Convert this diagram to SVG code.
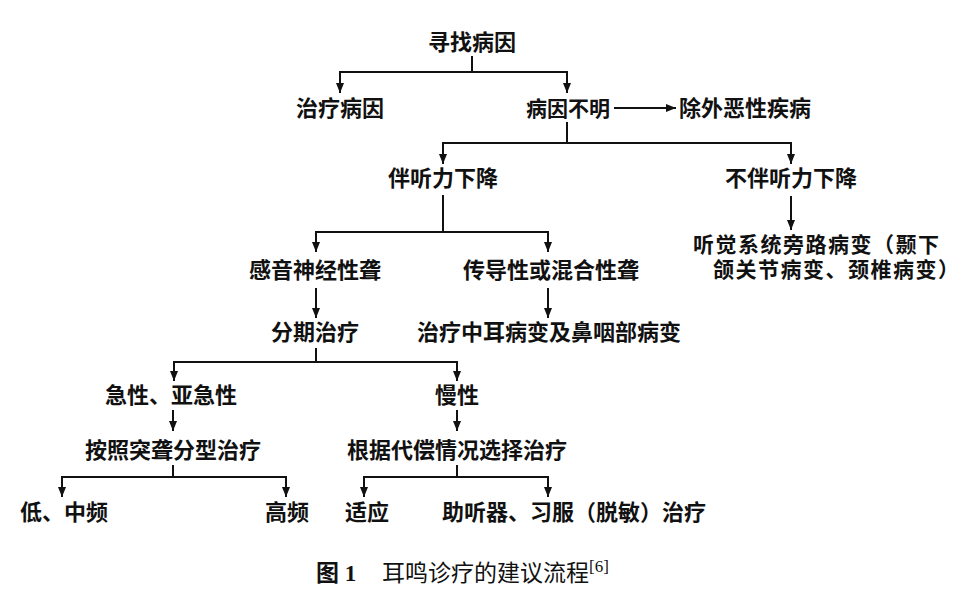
<svg xmlns="http://www.w3.org/2000/svg" width="967" height="610" viewBox="0 0 967 610">
<defs>
<marker id="ah" markerUnits="userSpaceOnUse" markerWidth="10" markerHeight="10" refX="10" refY="4" orient="auto">
<path d="M0,0 L10,4 L0,8 z" fill="#111"/>
</marker>
<style>
text{font-family:"Noto Sans CJK SC","Liberation Sans",sans-serif;font-size:22px;font-weight:bold;fill:#111}
.m{text-anchor:middle}
.c{stroke:#111;stroke-width:2;fill:none}
.a{marker-end:url(#ah)}
.cap{font-weight:normal;font-size:23px}
.two{font-family:"Liberation Sans","Noto Sans CJK SC",sans-serif;font-size:21px;letter-spacing:1.5px}
</style>
</defs>
<rect width="967" height="610" fill="#fff"/>
<g id="connectors">
<path class="c a" d="M472,56 V72 H340 V93"/>
<path class="c a" d="M472,72 H567 V93"/>
<path class="c a" d="M614,108 H676"/>
<path class="c a" d="M567,122 V143 H443 V164"/>
<path class="c a" d="M567,143 H791 V164"/>
<path class="c a" d="M443,195 V232 H316 V252"/>
<path class="c a" d="M443,232 H548 V252"/>
<path class="c a" d="M791,196 V230"/>
<path class="c a" d="M316,288 V318"/>
<path class="c a" d="M548,288 V318"/>
<path class="c a" d="M316,348 V362 H174 V381"/>
<path class="c a" d="M316,362 H457 V381"/>
<path class="c a" d="M173,410 V431"/>
<path class="c a" d="M457,410 V431"/>
<path class="c a" d="M173,465 V477 H62 V497"/>
<path class="c a" d="M173,477 H286 V497"/>
<path class="c a" d="M457,465 V477 H364 V497"/>
<path class="c a" d="M457,477 H548 V497"/>
</g>
<g id="n1"><text class="m" x="472" y="50">寻找病因</text></g>
<g id="n2"><text class="m" x="340" y="116">治疗病因</text></g>
<g id="n3"><text class="m" x="568" y="116" style="font-size:21px">病因不明</text></g>
<g id="n4"><text x="679" y="116">除外恶性疾病</text></g>
<g id="n5"><text class="m" x="443" y="186">伴听力下降</text></g>
<g id="n6"><text class="m" x="791" y="186">不伴听力下降</text></g>
<g id="n7"><text class="two" x="693" y="252">听觉系统旁路病变（颞下</text><text class="two" x="713" y="277">颌关节病变、颈椎病变）</text></g>
<g id="n8"><text class="m" x="315" y="278">感音神经性聋</text></g>
<g id="n9"><text class="m" x="551" y="278">传导性或混合性聋</text></g>
<g id="n10"><text class="m" x="315" y="340">分期治疗</text></g>
<g id="n11"><text class="m" x="549" y="340">治疗中耳病变及鼻咽部病变</text></g>
<g id="n12"><text class="m" x="171" y="403">急性、亚急性</text></g>
<g id="n13"><text class="m" x="457" y="403">慢性</text></g>
<g id="n14"><text class="m" x="173" y="458">按照突聋分型治疗</text></g>
<g id="n15"><text class="m" x="457" y="458">根据代偿情况选择治疗</text></g>
<g id="n16"><text x="20" y="520">低、中频</text></g>
<g id="n17"><text x="265" y="520">高频</text></g>
<g id="n18"><text x="345" y="520">适应</text></g>
<g id="n19"><text x="442" y="520">助听器、习服（脱敏）治疗</text></g>
<g id="caption"><text x="316" y="581" style="font-size:23px">图<tspan style="font-family:'Liberation Serif',serif"> 1</tspan></text><text class="cap" x="382" y="581">耳鸣诊疗的建议流程<tspan dy="-9" style="font-size:17px;font-family:'Liberation Serif',serif">[6]</tspan></text></g>
</svg>
